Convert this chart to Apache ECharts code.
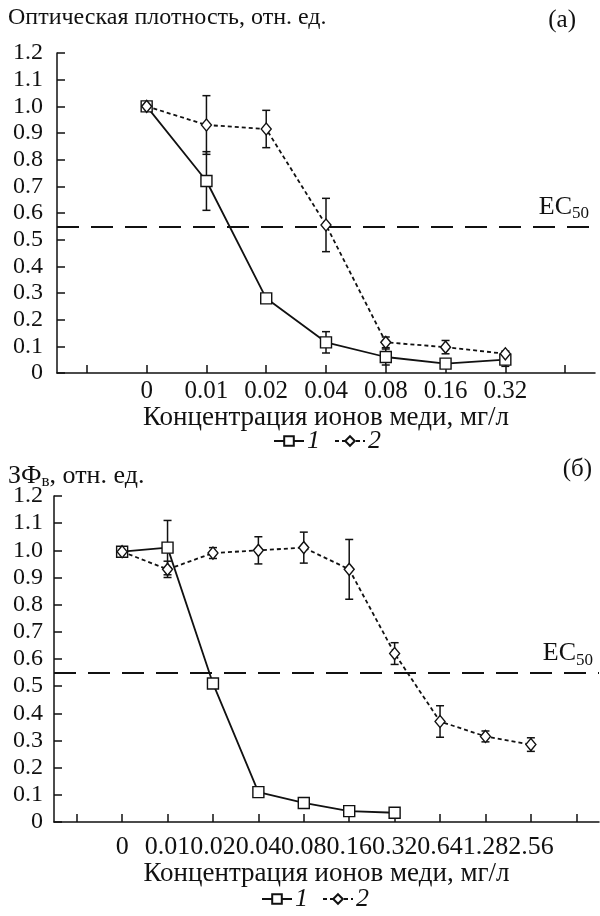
<!DOCTYPE html>
<html>
<head>
<meta charset="utf-8">
<script src="https://cdn.jsdelivr.net/npm/echarts@6/dist/echarts.min.js"></script>
<style>
html, body { margin: 0; padding: 0; background: #fff; }
#chart { width: 600px; height: 916px; }
</style>
</head>
<body>
<div id="chart"></div>
<script>
// (а) оптическая плотность
const catsA = ['', '0', '0.01', '0.02', '0.04', '0.08', '0.16', '0.32', ''];
const odA1 = [null, 1.00, 0.72, 0.28, 0.115, 0.06, 0.035, 0.05, null];
const odA1err = [null, 0, 0.11, 0, 0.04, 0.03, 0, 0.025, null];
const odA2 = [null, 1.00, 0.93, 0.915, 0.555, 0.115, 0.097, 0.072, null];
const odA2err = [null, 0, 0.11, 0.07, 0.10, 0.02, 0.025, 0.01, null];

// (б) ЗФв
const catsB = ['', '0', '0.01', '0.02', '0.04', '0.08', '0.16', '0.32', '0.64', '1.28', '2.56', ''];
const dfB1 = [null, 0.995, 1.01, 0.51, 0.11, 0.07, 0.04, 0.034, null, null, null, null];
const dfB1err = [null, 0.01, 0.10, 0, 0.01, 0, 0, 0, null, null, null, null];
const dfB2 = [null, 0.995, 0.93, 0.99, 1.00, 1.01, 0.93, 0.62, 0.37, 0.315, 0.285, null];
const dfB2err = [null, 0.01, 0.03, 0.02, 0.05, 0.057, 0.11, 0.04, 0.058, 0.02, 0.025, null];

const ec50 = 0.55;

const FONT = 'Liberation Serif';
const INK = '#111';

let myChart = echarts.init(document.getElementById('chart'));

// усы погрешностей
const errData = (vals, errs) => {
  let out = [];
  vals.forEach((v, i) => {
    if (v != null && errs[i]) out.push([i, v - errs[i], v + errs[i]]);
  });
  return out;
};

const errItem = (params, api) => {
  let x = api.value(0);
  let top = api.coord([x, api.value(2)]);
  let bot = api.coord([x, api.value(1)]);
  let w = 4;
  let st = { stroke: INK, lineWidth: 1.5 };
  return {
    type: 'group',
    children: [
      { type: 'line', shape: { x1: top[0], y1: top[1], x2: bot[0], y2: bot[1] }, style: st },
      { type: 'line', shape: { x1: top[0] - w, y1: top[1], x2: top[0] + w, y2: top[1] }, style: st },
      { type: 'line', shape: { x1: bot[0] - w, y1: bot[1], x2: bot[0] + w, y2: bot[1] }, style: st }
    ]
  };
};

const txt = (size) => ({ fontFamily: FONT, fontSize: size, color: INK, fontWeight: 'normal' });

const yAxisCfg = (idx, margin) => ({
  gridIndex: idx, type: 'value', min: 0, max: 1.2, interval: 0.1,
  axisLine: { show: true, lineStyle: { color: INK, width: 1.5 } },
  axisTick: { show: true, inside: true, length: 8, lineStyle: { color: INK, width: 1.5 } },
  splitLine: { show: false },
  axisLabel: Object.assign({ margin: margin, formatter: v => v === 0 ? '0' : v.toFixed(1) }, txt(24))
});

const xAxisCfg = (idx, cats, size, margin, gap) => ({
  gridIndex: idx, type: 'category', data: cats, boundaryGap: true,
  axisLine: { show: true, lineStyle: { color: INK, width: 1.5 } },
  axisTick: { show: true, inside: true, length: 8, interval: 0, alignWithLabel: true, lineStyle: { color: INK, width: 1.5 } },
  axisLabel: Object.assign({ interval: 0, margin: margin }, txt(size)),
  name: 'Концентрация ионов меди, мг/л', nameLocation: 'middle', nameGap: gap,
  nameTextStyle: txt(27)
});

const ec50Line = {
  silent: true, symbol: 'none', animation: false,
  data: [{ yAxis: ec50 }],
  lineStyle: { color: INK, type: [22, 12], width: 2 },
  label: {
    position: 'insideEndTop', distance: [6, 4],
    formatter: 'EC{s|50}',
    fontFamily: FONT, fontSize: 26, color: INK, lineHeight: 30,
    rich: { s: { fontFamily: FONT, fontSize: 17, color: INK, lineHeight: 30, verticalAlign: 'bottom' } }
  }
};

const line1 = (xi, data, withMark) => ({
  name: '1', type: 'line', xAxisIndex: xi, yAxisIndex: xi, data: data, z: 3,
  symbol: 'rect', symbolSize: 11,
  itemStyle: { color: '#fff', borderColor: INK, borderWidth: 1.4 },
  lineStyle: { color: INK, width: 1.8 },
  markLine: withMark ? ec50Line : undefined
});

const line2 = (xi, data) => ({
  name: '2', type: 'line', xAxisIndex: xi, yAxisIndex: xi, data: data, z: 4,
  symbol: 'diamond', symbolSize: [10, 12],
  itemStyle: { color: '#fff', borderColor: INK, borderWidth: 1.4 },
  lineStyle: { color: INK, width: 1.8, type: [4, 3] }
});

const errSeries = (xi, vals, errs) => ({
  type: 'custom', xAxisIndex: xi, yAxisIndex: xi, z: 2,
  renderItem: errItem, data: errData(vals, errs), silent: true
});

const legendCfg = (top, left) => ({
  top: top, left: left, data: ['1', '2'], itemWidth: 30, itemHeight: 12, itemGap: 14,
  selectedMode: false,
  textStyle: { fontFamily: FONT, fontSize: 26, fontStyle: 'italic', color: INK, padding: [0, 0, 0, -2] }
});

let option = {
  animation: false,
  backgroundColor: '#fff',
  title: [
    { text: 'Оптическая плотность, отн. ед.', left: 8, top: 6, padding: 0, textStyle: txt(24) },
    { text: '(а)', right: 24, top: 8, padding: 0, textStyle: txt(25) },
    {
      text: 'ЗФ{s|в}, отн. ед.', left: 8, top: 462, padding: 0,
      textStyle: Object.assign({ lineHeight: 28, rich: { s: { fontFamily: FONT, fontSize: 17, color: INK, lineHeight: 28, verticalAlign: 'bottom' } } }, txt(26))
    },
    { text: '(б)', right: 8, top: 457, padding: 0, textStyle: txt(25) }
  ],
  legend: [legendCfg(423, 268), legendCfg(881, 256)],
  grid: [
    { left: 57, top: 53, width: 538, height: 320 },
    { left: 54, top: 496, width: 545, height: 326 }
  ],
  xAxis: [xAxisCfg(0, catsA, 25, 6, 31), xAxisCfg(1, catsB, 26, 12, 38)],
  yAxis: [yAxisCfg(0, 14), yAxisCfg(1, 11)],
  series: [
    errSeries(0, odA1, odA1err),
    errSeries(0, odA2, odA2err),
    line1(0, odA1, true),
    line2(0, odA2),
    errSeries(1, dfB1, dfB1err),
    errSeries(1, dfB2, dfB2err),
    line1(1, dfB1, true),
    line2(1, dfB2)
  ]
};

myChart.setOption(option);
</script>
</body>
</html>
